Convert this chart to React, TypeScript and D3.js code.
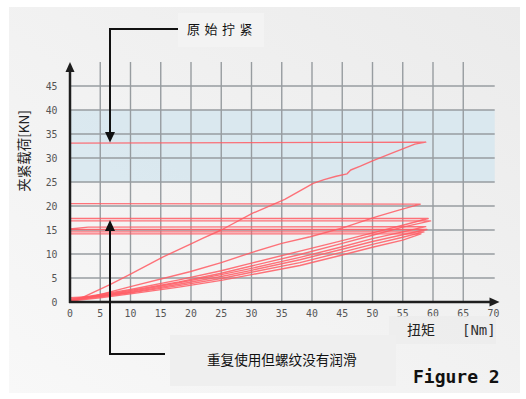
import React from "react";
import { scaleLinear, line } from "d3";

// torque [Nm] vs clamping load [KN], one array per tightening cycle
const originalCycle: [number, number][] = [
  [0, 0.3], [2, 0.9], [6.6, 3.6], [10, 5.8], [15.4, 9.4], [20, 12.1], [22, 13.3],
  [25, 15], [30.2, 18.5], [35.5, 21.4], [40.2, 24.7], [42, 25.5], [44, 26.2],
  [45.8, 26.7], [46.4, 27.5], [48, 28.3], [50, 29.4], [53, 30.9], [55, 31.9],
  [57, 32.9], [58.8, 33.3], [0, 33.1],
];
const reuse1: [number, number][] = [
  [0, 0.2], [3, 0.9], [10, 3.2], [19.8, 6.3], [25, 8.2], [30, 10.3], [35, 12.2],
  [39.7, 13.6], [45.2, 15.5], [50.7, 17.8], [54.5, 19.2], [57.9, 20.4], [0, 20.5],
];
const reuse2: [number, number][] = [
  [0, 0.6], [5, 1.6], [10, 2.6], [18, 4.6], [25, 6.5], [30, 8.1], [38, 10.6],
  [45, 12.8], [50, 14.4], [55, 16.0], [59.2, 17.4], [0, 17.4],
];
const reuse3: [number, number][] = [
  [0, 0.5], [5, 1.4], [10, 2.4], [18, 4.2], [25, 6.0], [30, 7.5], [38, 9.9],
  [45, 12.2], [50, 13.9], [55, 15.6], [59.6, 16.9], [0, 16.9],
];
const reuse4: [number, number][] = [
  [0, 0.4], [5, 1.3], [10, 2.2], [18, 4.0], [25, 5.7], [30, 7.0], [38, 9.3],
  [45, 11.5], [50, 13.2], [55, 14.6], [58.8, 15.7], [3, 15.6], [0, 15.2],
];
const reuse5: [number, number][] = [
  [0, 0.9], [5, 1.2], [10, 2.0], [18, 3.7], [25, 5.3], [30, 6.6], [38, 8.8],
  [45, 11.0], [50, 12.6], [55, 14.0], [59, 15.1], [0, 15.1],
];
const reuse6: [number, number][] = [
  [0, 0.3], [5, 1.1], [10, 1.9], [18, 3.4], [25, 4.9], [30, 6.2], [38, 8.2],
  [45, 10.4], [50, 12.0], [55, 13.5], [58.5, 14.6], [0, 14.6],
];
const reuse7: [number, number][] = [
  [0, 0.2], [5, 0.9], [10, 1.7], [18, 3.1], [25, 4.5], [30, 5.7], [38, 7.6],
  [45, 9.8], [50, 11.4], [55, 12.9], [58, 14.2], [0, 14.2],
];
const cycles = [originalCycle, reuse1, reuse2, reuse3, reuse4, reuse5, reuse6, reuse7];

const xTicks = [0, 5, 10, 15, 20, 25, 30, 35, 40, 45, 50, 55, 60, 65, 70];
const yTicks = [0, 5, 10, 15, 20, 25, 30, 35, 40, 45];
const targetBand = [25, 40];

const mono = "'DejaVu Sans Mono', monospace";
const cjk = "'Noto Sans CJK SC', sans-serif";

export default function App() {
  const x = scaleLinear().domain([0, 70]).range([70, 493.5]);
  const y = scaleLinear().domain([0, 50]).range([302, 62]);
  const path = line<[number, number]>()
    .x(d => x(d[0]))
    .y(d => y(d[1]));

  return (
    <svg
      width={526}
      height={399}
      style={{ position: "absolute", left: 0, top: 0 }}
    >
      <defs>
        <linearGradient id="bg" x1="0" y1="1" x2="1" y2="0">
          <stop offset="0" stopColor="#f8f8f8" />
          <stop offset="1" stopColor="#ebebeb" />
        </linearGradient>
      </defs>
      <rect x={0} y={0} width={526} height={399} fill="#fff" />
      <rect x={9} y={7} width={511} height={386} fill="url(#bg)" />

      {/* target load band */}
      <rect
        x={x(0)}
        y={y(targetBand[1])}
        width={x(70.2) - x(0)}
        height={y(targetBand[0]) - y(targetBand[1])}
        fill="#d6e6ef"
        opacity={0.85}
      />

      {/* grid */}
      {yTicks.filter(t => t > 0).map(t => (
        <line key={"h" + t} x1={x(0)} x2={x(70.2)} y1={y(t)} y2={y(t)}
          stroke="#979ca0" strokeWidth={1.4} />
      ))}
      {xTicks.filter(t => t > 0 && t < 70).map(t => (
        <line key={"v" + t} x1={x(t)} x2={x(t)} y1={y(50)} y2={y(0)}
          stroke="#979ca0" strokeWidth={1.4} />
      ))}

      {/* curves */}
      {cycles.map((c, i) => (
        <path key={i} d={path(c) || ""} fill="none" stroke="#ff5a63"
          strokeOpacity={0.85} strokeWidth={1.4} strokeLinejoin="round" />
      ))}

      {/* axes */}
      <line x1={x(0)} x2={x(0)} y1={y(0) + 1} y2={y(50) + 8} stroke="#1e1e1e" strokeWidth={2.5} />
      <path d={`M${x(0)},${y(50)} L${x(0) - 4.5},${y(50) + 10} L${x(0) + 4.5},${y(50) + 10} Z`} fill="#1e1e1e" />
      <line x1={x(0) - 1} x2={x(70.5) - 6} y1={y(0)} y2={y(0)} stroke="#1e1e1e" strokeWidth={2.5} />
      <path d={`M${x(70.5) + 3},${y(0)} L${x(70.5) - 7},${y(0) - 4.5} L${x(70.5) - 7},${y(0) + 4.5} Z`} fill="#1e1e1e" />

      {/* tick labels */}
      {yTicks.map(t => (
        <text key={"yl" + t} x={57.5} y={y(t) + 4} textAnchor="end"
          fontFamily={mono} fontSize={9.8} fill="#555">{t}</text>
      ))}
      {xTicks.map(t => (
        <text key={"xl" + t} x={x(t)} y={317} textAnchor="middle"
          fontFamily={mono} fontSize={9.8} fill="#555">{t}</text>
      ))}

      {/* y title */}
      <text transform="translate(29,151) rotate(-90)" textAnchor="middle"
        fontFamily={cjk} fontSize={13.5} fill="#222">夹紧载荷[KN]</text>

      {/* x title */}
      <rect x={389} y={316} width={107} height={28} fill="#ececec" opacity={0.8} />
      <text x={407} y={335} fontFamily={cjk} fontSize={14} fill="#222">扭矩</text>
      <text x={462} y={335} fontFamily={mono} fontSize={14} fill="#333">[Nm]</text>

      {/* top annotation */}
      <rect x={178} y={13} width={86} height={34} fill="#f4f4f4" opacity={0.8} />
      <text x={187} y={34} fontFamily={cjk} fontSize={13} letterSpacing={4.5} fill="#111">原始拧紧</text>
      <polyline points={`178,29 110,29 110,133`} fill="none" stroke="#111" strokeWidth={2} />
      <path d="M110,142.5 L105,132 L115,132 Z" fill="#111" />

      {/* bottom annotation */}
      <rect x={170} y={335} width={226} height={51} fill="#efefef" />
      <text x={207} y={365} fontFamily={cjk} fontSize={13.6} fill="#111">重复使用但螺纹没有润滑</text>
      <polyline points={`165,354 110,354 110,230`} fill="none" stroke="#111" strokeWidth={2} />
      <path d="M110,220 L105,231 L115,231 Z" fill="#111" />

      <text x={413} y={383} fontFamily={mono} fontWeight="bold" fontSize={18} fill="#111">Figure 2</text>
    </svg>
  );
}
